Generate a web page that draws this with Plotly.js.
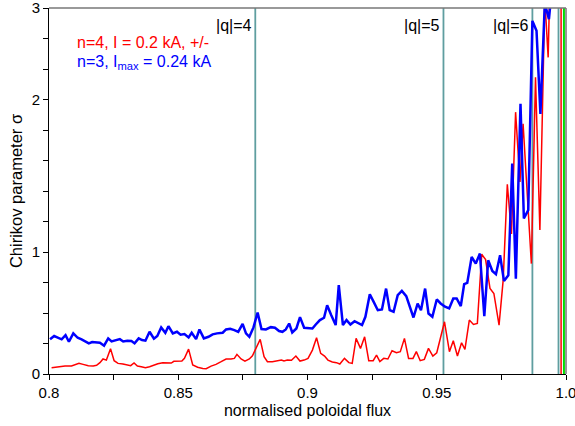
<!DOCTYPE html>
<html>
<head>
<meta charset="utf-8">
<script src="https://cdn.plot.ly/plotly-3.0.1.min.js"></script>
<style>html,body{margin:0;padding:0;background:#fff;}#chart{width:575px;height:426px;}</style>
</head>
<body>
<div id="chart"></div>
<script>
// ---- data ----
var blueFlux = [0.8004,0.8020,0.8036,0.8049,0.8064,0.8077,0.8094,0.8111,0.8126,0.8141,0.8154,0.8167,0.8184,0.8197,0.8213,0.8229,0.8242,0.8257,0.8274,0.8287,0.8303,0.8319,0.8331,0.8347,0.8360,0.8373,0.8389,0.8406,0.8419,0.8434,0.8450,0.8462,0.8479,0.8495,0.8509,0.8524,0.8540,0.8552,0.8569,0.8582,0.8599,0.8617,0.8633,0.8650,0.8672,0.8685,0.8701,0.8717,0.8732,0.8749,0.8762,0.8775,0.8791,0.8807,0.8822,0.8839,0.8858,0.8874,0.8890,0.8903,0.8916,0.8929,0.8941,0.8957,0.8971,0.8987,0.9002,0.9019,0.9032,0.9048,0.9064,0.9076,0.9092,0.9109,0.9121,0.9137,0.9151,0.9166,0.9182,0.9198,0.9211,0.9224,0.9241,0.9256,0.9272,0.9288,0.9304,0.9318,0.9333,0.9349,0.9365,0.9382,0.9395,0.9410,0.9426,0.9439,0.9455,0.9468,0.9483,0.9500,0.9515,0.9532,0.9548,0.9564,0.9577,0.9593,0.9606,0.9618,0.9635,0.9651,0.9667,0.9684,0.9699,0.9715,0.9729,0.9745,0.9760,0.9777,0.9792,0.9806,0.9824,0.9837,0.9854,0.9870,0.9886,0.9901,0.9918,0.9934,0.9945];
var blueSigma = [0.284,0.311,0.297,0.284,0.319,0.264,0.333,0.297,0.284,0.264,0.251,0.262,0.259,0.256,0.232,0.292,0.267,0.273,0.286,0.267,0.273,0.270,0.251,0.292,0.278,0.273,0.346,0.289,0.311,0.382,0.338,0.392,0.333,0.346,0.322,0.327,0.300,0.338,0.286,0.365,0.292,0.305,0.325,0.333,0.338,0.365,0.371,0.360,0.346,0.411,0.333,0.305,0.382,0.504,0.368,0.365,0.384,0.379,0.352,0.346,0.365,0.414,0.341,0.373,0.466,0.379,0.379,0.373,0.406,0.442,0.461,0.564,0.482,0.401,0.728,0.401,0.442,0.406,0.433,0.414,0.401,0.469,0.654,0.591,0.523,0.529,0.700,0.523,0.510,0.646,0.681,0.638,0.551,0.463,0.578,0.523,0.700,0.496,0.469,0.611,0.578,0.551,0.537,0.619,0.619,0.556,0.736,0.747,0.959,0.905,0.987,0.474,0.932,0.845,0.818,0.973,0.763,0.809,1.580,0.782,1.972,1.220,1.275,2.859,2.750,1.906,3.05,2.877,3.2];

var redFlux = [0.8010,0.8036,0.8062,0.8087,0.8103,0.8116,0.8132,0.8152,0.8171,0.8184,0.8197,0.8209,0.8222,0.8238,0.8252,0.8267,0.8286,0.8306,0.8316,0.8329,0.8342,0.8357,0.8373,0.8389,0.8406,0.8421,0.8440,0.8460,0.8473,0.8483,0.8498,0.8514,0.8524,0.8540,0.8556,0.8575,0.8595,0.8608,0.8627,0.8646,0.8666,0.8685,0.8704,0.8717,0.8727,0.8743,0.8758,0.8775,0.8787,0.8800,0.8817,0.8832,0.8845,0.8864,0.8884,0.8899,0.8909,0.8922,0.8938,0.8955,0.8971,0.8987,0.9002,0.9019,0.9035,0.9051,0.9066,0.9079,0.9096,0.9112,0.9125,0.9143,0.9160,0.9173,0.9188,0.9205,0.9221,0.9237,0.9254,0.9267,0.9280,0.9295,0.9311,0.9327,0.9344,0.9359,0.9375,0.9391,0.9408,0.9421,0.9436,0.9452,0.9468,0.9485,0.9500,0.9515,0.9530,0.9549,0.9564,0.9580,0.9596,0.9609,0.9626,0.9642,0.9657,0.9674,0.9689,0.9706,0.9721,0.9741,0.9757,0.9773,0.9789,0.9805,0.9822,0.9834,0.9866,0.9882,0.9899,0.9918,0.9931,0.9937];
var redSigma = [0.052,0.060,0.065,0.065,0.074,0.087,0.079,0.068,0.065,0.071,0.093,0.123,0.114,0.207,0.109,0.087,0.082,0.076,0.068,0.090,0.065,0.060,0.052,0.060,0.074,0.084,0.093,0.093,0.090,0.104,0.104,0.106,0.128,0.204,0.074,0.055,0.046,0.044,0.065,0.079,0.101,0.123,0.123,0.128,0.161,0.123,0.106,0.123,0.150,0.210,0.284,0.142,0.101,0.101,0.106,0.114,0.106,0.114,0.112,0.147,0.106,0.114,0.128,0.196,0.297,0.169,0.147,0.114,0.098,0.093,0.082,0.128,0.093,0.087,0.292,0.210,0.305,0.109,0.109,0.155,0.101,0.128,0.123,0.191,0.174,0.183,0.292,0.128,0.128,0.183,0.109,0.120,0.210,0.147,0.174,0.292,0.428,0.183,0.272,0.147,0.256,0.202,0.442,0.406,0.414,0.981,0.938,0.701,0.660,0.401,0.769,1.444,1.118,1.917,1.459,1.841,0.905,2.242,1.144,3.1,2.46,3.2];

var qFlux = [0.8798, 0.9526, 0.9870, 0.9971];
var qLabels = ['|q|=4', '|q|=5', '|q|=6', ''];
var redEdgeFlux = [0.9981];
var greenEdgeFlux = [0.9992];

var xTickVals = [0.8, 0.85, 0.9, 0.95, 1.0];
var xTickText = ['0.8', '0.85', '0.9', '0.95', '1.0'];
var yTickSigma = [0, 1, 2, 3];
var yTickText = ['0', '1', '2', '3'];
// axis scale break points: sigma -> axis coordinate (as drawn in the original)
var scaleSigma = [0, 1, 2, 3];
var scaleAxis = [0, 4, 9, 12];

function toAxis(s) {
  for (var i = 1; i < scaleSigma.length; i++) {
    if (s <= scaleSigma[i] || i === scaleSigma.length - 1) {
      var s0 = scaleSigma[i-1], s1 = scaleSigma[i];
      var a0 = scaleAxis[i-1], a1 = scaleAxis[i];
      return a0 + (s - s0) * (a1 - a0) / (s1 - s0);
    }
  }
}

var FONT = 'Liberation Sans, Arial, sans-serif';

var traces = [
  {x: redFlux, y: redSigma.map(toAxis), type: 'scatter', mode: 'lines',
   line: {color: '#ff0000', width: 1.5}, hoverinfo: 'skip'},
  {x: blueFlux, y: blueSigma.map(toAxis), type: 'scatter', mode: 'lines',
   line: {color: '#0000ff', width: 2.5}, hoverinfo: 'skip'}
];

var shapes = [];
qFlux.forEach(function (q) {
  shapes.push({type: 'line', xref: 'x', yref: 'paper', x0: q, x1: q, y0: 0, y1: 1,
               line: {color: '#5f9ea0', width: 1.8}, layer: 'below'});
});
redEdgeFlux.forEach(function (q) {
  shapes.push({type: 'line', xref: 'x', yref: 'paper', x0: q, x1: q, y0: 0, y1: 1,
               line: {color: '#ff0000', width: 1.5}});
});
greenEdgeFlux.forEach(function (q) {
  shapes.push({type: 'line', xref: 'x', yref: 'paper', x0: q, x1: q, y0: 0, y1: 1,
               line: {color: '#00dd00', width: 2}});
});
// top and right frame
shapes.push({type: 'line', xref: 'paper', yref: 'paper', x0: 0, x1: 1, y0: 1, y1: 1,
             line: {color: '#777777', width: 1.5}});
shapes.push({type: 'line', xref: 'paper', yref: 'paper', x0: 1, x1: 1, y0: 0, y1: 1,
             line: {color: '#777777', width: 1.5}});

var annotations = [];
qFlux.forEach(function (q, i) {
  if (!qLabels[i]) return;
  annotations.push({x: q, xref: 'x', y: 0.951, yref: 'paper', text: qLabels[i],
    xanchor: 'right', yanchor: 'middle', showarrow: false, xshift: -1,
    font: {family: FONT, size: 16, color: '#000'}});
});
annotations.push({x: 0.05, xref: 'paper', y: 0.905, yref: 'paper',
  text: 'n=4, I = 0.2 kA, +/-', xanchor: 'left', yanchor: 'middle', showarrow: false,
  font: {family: FONT, size: 16, color: '#ff0000'}});
annotations.push({x: 0.05, xref: 'paper', y: 0.85, yref: 'paper',
  text: 'n=3, I<sub>max</sub> = 0.24 kA', xanchor: 'left', yanchor: 'middle', showarrow: false,
  font: {family: FONT, size: 16, color: '#0000ff'}});

var layout = {
  width: 575, height: 426,
  margin: {l: 49, r: 9, t: 8, b: 52, pad: 0},
  paper_bgcolor: '#fff', plot_bgcolor: '#fff',
  showlegend: false,
  font: {family: FONT, size: 15, color: '#000'},
  xaxis: {
    range: [0.8, 1.0], showgrid: false, zeroline: false,
    showline: true, linecolor: '#000', linewidth: 1,
    ticks: 'outside', ticklen: 5, tickcolor: '#000', tickwidth: 1,
    tickmode: 'array', tickvals: xTickVals, ticktext: xTickText,
    ticklabeloverflow: 'allow',
    tickfont: {family: FONT, size: 15, color: '#000'},
    minor: {dtick: 0.025, tick0: 0.8, ticks: 'outside', ticklen: 5, tickcolor: '#000', tickwidth: 1, showgrid: false},
    title: {text: 'normalised poloidal flux', font: {family: FONT, size: 16, color: '#000'}, standoff: 4}
  },
  yaxis: {
    range: [0, 12], showgrid: false, zeroline: false,
    showline: true, linecolor: '#000', linewidth: 1,
    ticks: 'outside', ticklen: 5, tickcolor: '#000', tickwidth: 1,
    tickmode: 'array', tickvals: yTickSigma.map(toAxis), ticktext: yTickText,
    ticklabeloverflow: 'allow',
    tickfont: {family: FONT, size: 15, color: '#000'},
    minor: {dtick: 1, tick0: 0, ticks: 'outside', ticklen: 5, tickcolor: '#000', tickwidth: 1, showgrid: false},
    title: {text: 'Chirikov parameter σ', font: {family: FONT, size: 16.5, color: '#000'}, standoff: 4}
  },
  shapes: shapes,
  annotations: annotations
};

Plotly.newPlot('chart', traces, layout, {staticPlot: true, displayModeBar: false});
</script>
</body>
</html>
